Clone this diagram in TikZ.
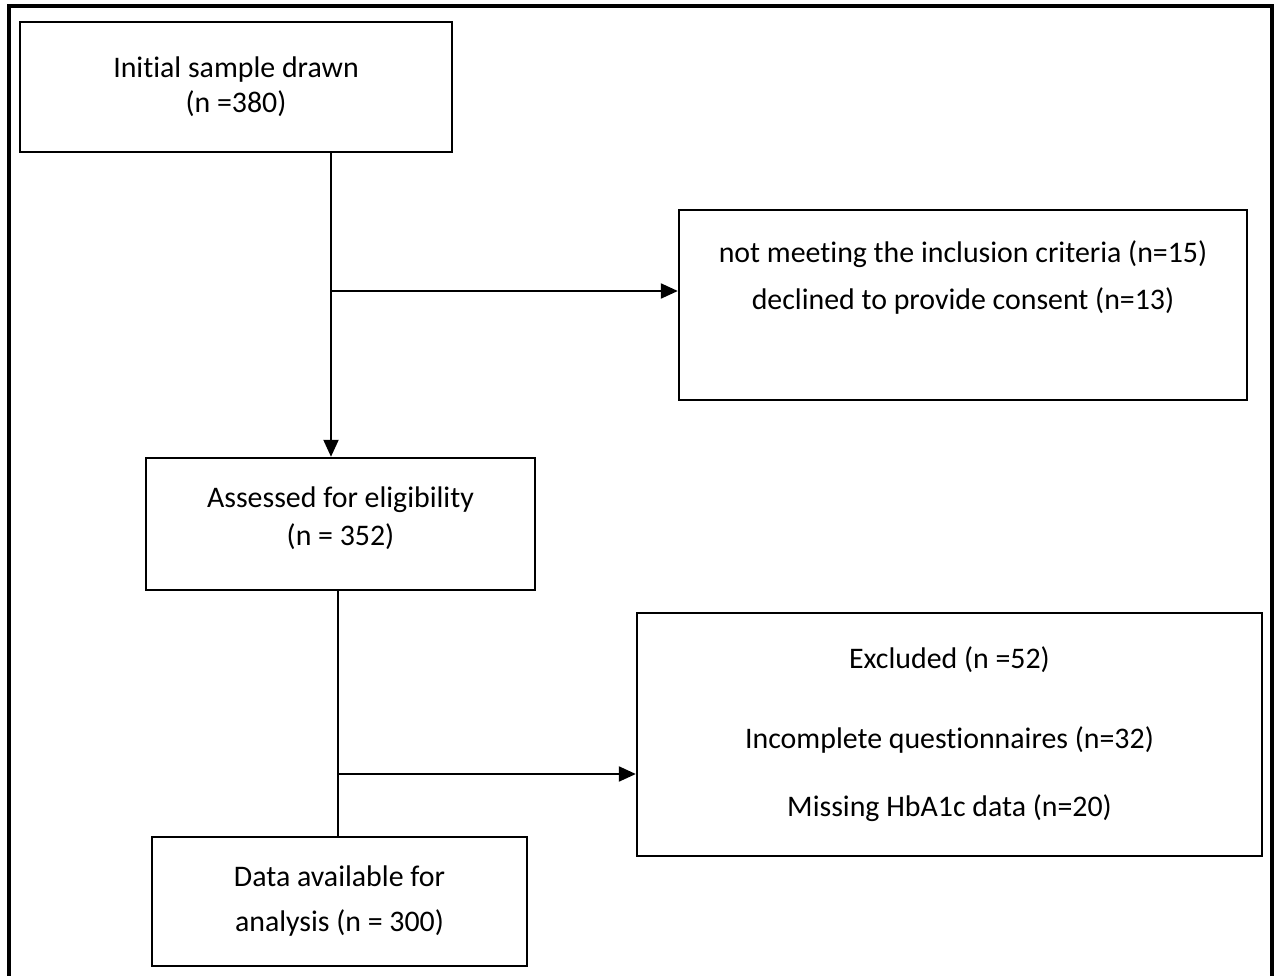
\documentclass[tikz,border=0pt]{standalone}
\usepackage{fontspec}
\setmainfont{Carlito}[Ligatures=NoCommon]
\usetikzlibrary{arrows.meta}
\usetikzlibrary{positioning}
\tikzset{
  flowbox/.style={rectangle,draw,line width=1.4pt,align=center,inner sep=0pt,
    font=\fontsize{17}{20}\selectfont},
  arr/.style={line width=1.2pt,-{Triangle[length=0.34cm,width=0.3cm]}},
}
\begin{document}
\begin{tikzpicture}[x=0.02cm,y=-0.02cm]
\useasboundingbox (0,0) rectangle (1277,976);
%outer frame
\draw[line width=2.2pt] (9,990) -- (9,6) -- (1272,6) -- (1272,990);

%boxes
\node[flowbox,minimum width=8.64cm,minimum height=2.6cm] (init) at (236,87)
  {Initial sample drawn\\(n =380)};
\node[flowbox,minimum width=11.36cm,minimum height=3.8cm,text depth=1.2cm] (crit) at (963,305)
  {not meeting the inclusion criteria (n=15)\\[6.7pt]declined to provide consent (n=13)};
\node[flowbox,minimum width=7.78cm,minimum height=2.64cm,text depth=0.3cm] (assess) at (340.5,524)
  {Assessed for eligibility\\[1.6pt](n = 352)};
\node[flowbox,minimum width=12.5cm,minimum height=4.86cm] (excl) at (949.5,734.5)
  {Excluded (n =52)\\[25.5pt]Incomplete questionnaires (n=32)\\[18.7pt]Missing HbA1c data (n=20)};
\node[flowbox,minimum width=7.5cm,minimum height=2.58cm] (data) at (339.5,901.5)
  {Data available for\\[5.6pt]analysis (n = 300)};

%connectors
\coordinate (j1) at (331,291);
\coordinate (j2) at (338,774);
\draw[arr] (init.south -| j1) -- (assess.north -| j1);
\draw[arr] (j1) -- (crit.west |- j1);
\draw[line width=0.7pt] (assess.south -| j2) -- (data.north -| j2);
\draw[arr] (j2) -- (excl.west |- j2);
\end{tikzpicture}
\end{document}
